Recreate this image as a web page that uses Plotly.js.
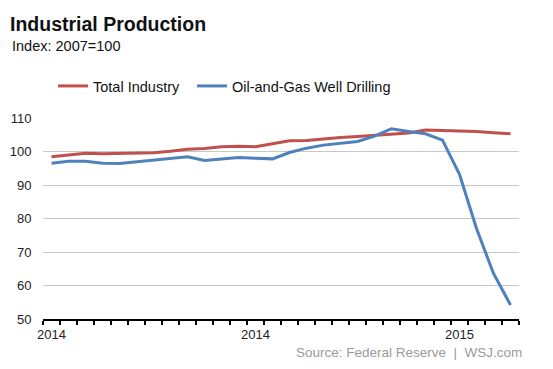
<!DOCTYPE html>
<html>
<head>
<meta charset="utf-8">
<script src="https://cdn.plot.ly/plotly-3.0.1.min.js"></script>
<style>html,body{margin:0;padding:0;background:#fff;}#chart{width:553px;height:369px;}</style>
</head>
<body>
<div id="chart"></div>
<script>
// Monthly index values (2007=100), 28 months
var months = [0,1,2,3,4,5,6,7,8,9,10,11,12,13,14,15,16,17,18,19,20,21,22,23,24,25,26,27];
var totalIndustry = [98.4, 99.0, 99.5, 99.3, 99.4, 99.6, 99.6, 100.1, 100.7, 100.9, 101.4, 101.6, 101.4, 102.3, 103.2, 103.3, 103.8, 104.2, 104.5, 104.8, 105.3, 105.5, 106.4, 106.3, 106.0, 106.0, 105.6, 105.3];
var oilGasDrilling = [96.5, 97.1, 97.1, 96.5, 96.4, 96.9, 97.4, 98.1, 98.4, 97.3, 97.7, 98.2, 98.0, 97.8, 99.7, 101.0, 101.9, 102.4, 103.0, 104.6, 106.8, 106.0, 105.3, 103.4, 93.2, 77.0, 63.6, 54.2];
var seriesNames = ['Total Industry', 'Oil-and-Gas Well Drilling'];
var xTickPositions = [0, 12, 24];
var xTickLabels = ['2014', '2014', '2015'];
var yTickValues = [50, 60, 70, 80, 90, 100, 110];

var FONT = 'Liberation Sans, Arial, Helvetica, sans-serif';

var traces = [
  {x: months, y: totalIndustry, name: seriesNames[0], type: 'scatter', mode: 'lines',
   line: {color: '#c0504d', width: 3}, legend: 'legend'},
  {x: months, y: oilGasDrilling, name: seriesNames[1], type: 'scatter', mode: 'lines',
   line: {color: '#4f81bd', width: 3}, legend: 'legend2'}
];

function legendAt(px) {
  return {orientation: 'h', xref: 'container', yref: 'container',
          x: px/553, y: 1 - 70/369, xanchor: 'left', yanchor: 'top',
          font: {family: FONT, size: 14.5, color: '#111'}, itemwidth: 30,
          bgcolor: 'rgba(0,0,0,0)'};
}

var layout = {
  width: 553, height: 369,
  margin: {l: 43, r: 34, t: 118, b: 50},
  paper_bgcolor: '#fff', plot_bgcolor: '#fff',
  font: {family: FONT, size: 13, color: '#222'},
  showlegend: true,
  legend: legendAt(53),
  legend2: legendAt(192),
  title: {text: 'Industrial Production', xref: 'container', yref: 'container',
          x: 10/553, xanchor: 'left', y: 1 - 24.5/369, yanchor: 'middle',
          font: {family: FONT, size: 19.5, color: '#111', weight: 'bold'}},
  xaxis: {range: [-0.5, 27.5], tickmode: 'array', tickvals: xTickPositions, ticktext: xTickLabels,
          ticks: '', showgrid: false, zeroline: false, ticklabelstandoff: 2,
          showline: true, linecolor: '#000', linewidth: 2,
          tickfont: {family: FONT, size: 13, color: '#222'},
          minor: {tick0: -0.5, dtick: 1, ticks: 'outside', ticklen: 4, tickwidth: 2, tickcolor: '#000', showgrid: false}},
  yaxis: {range: [50, 110], tickmode: 'array', tickvals: yTickValues,
          ticks: 'outside', ticklen: 8, tickcolor: 'rgba(0,0,0,0)',
          showgrid: true, gridcolor: '#c8c8c8', gridwidth: 1, zeroline: false, showline: false,
          tickfont: {family: FONT, size: 13, color: '#222'}},
  annotations: [
    {text: 'Index: 2007=100', xref: 'paper', yref: 'paper', showarrow: false,
     x: (10 - 43)/476, xanchor: 'left', y: 1 + (118 - 46)/201, yanchor: 'middle',
     font: {family: FONT, size: 14.5, color: '#111'}},
    {text: 'Source: Federal Reserve\u00a0\u00a0|\u00a0\u00a0WSJ.com', xref: 'paper', yref: 'paper', showarrow: false,
     x: (524 - 43)/476, xanchor: 'right', y: -(352.5 - 319)/201, yanchor: 'middle',
     font: {family: FONT, size: 13.5, color: '#9a9a9a'}}
  ]
};

Plotly.newPlot('chart', traces, layout, {displayModeBar: false, staticPlot: true});
</script>
</body>
</html>
